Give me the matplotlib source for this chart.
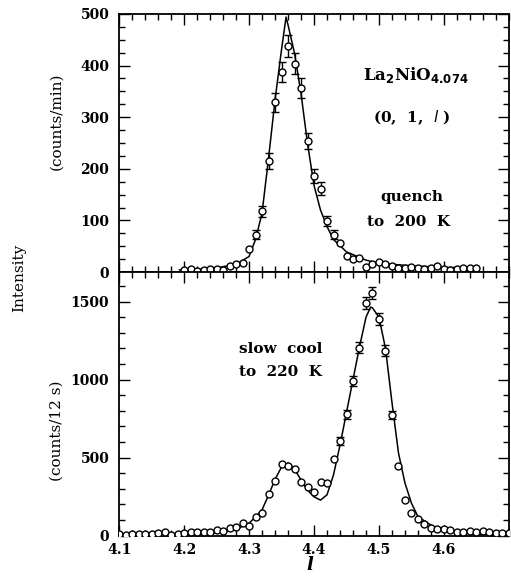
import matplotlib
matplotlib.use("Agg")
import matplotlib.pyplot as plt
import numpy as np
from matplotlib.ticker import MultipleLocator, FixedLocator

# ---- top panel: quench to 200 K (counts/min) ----
l_top = [4.20, 4.21, 4.22, 4.23, 4.24, 4.25, 4.26, 4.27, 4.28, 4.29,
         4.30, 4.31, 4.32, 4.33, 4.34, 4.35, 4.36, 4.37, 4.38, 4.39,
         4.40, 4.41, 4.42, 4.43, 4.44, 4.45, 4.46, 4.47, 4.48, 4.49,
         4.50, 4.51, 4.52, 4.53, 4.54, 4.55, 4.56, 4.57, 4.58, 4.59,
         4.60, 4.61, 4.62, 4.63, 4.64, 4.65]
i_top = [3, 5, 1, 3, 5, 6, 4, 11, 16, 17,
         45, 72, 118, 215, 329, 388, 438, 404, 357, 254,
         186, 161, 99, 72, 57, 31, 25, 27, 10, 15,
         19, 16, 12, 8, 8, 10, 8, 6, 7, 12,
         6, 4, 5, 8, 8, 7]
fit_l_top = [4.193, 4.22, 4.25, 4.28, 4.30, 4.31, 4.32, 4.33, 4.34, 4.35,
             4.357, 4.36, 4.37, 4.38, 4.39, 4.40, 4.41, 4.42, 4.43, 4.45,
             4.48, 4.50, 4.55, 4.60, 4.653]
fit_i_top = [4, 5, 8, 15, 30, 63, 114, 220, 333, 431,
             494, 479, 424, 346, 249, 168, 120, 88, 63, 39,
             23, 17, 12, 9, 8]

# ---- bottom panel: slow cool to 220 K (counts/12 s) ----
l_bot = [4.10, 4.11, 4.12, 4.13, 4.14, 4.15, 4.16, 4.17, 4.18, 4.19,
         4.20, 4.21, 4.22, 4.23, 4.24, 4.25, 4.26, 4.27, 4.28, 4.29,
         4.30, 4.31, 4.32, 4.33, 4.34, 4.35, 4.36, 4.37, 4.38, 4.39,
         4.40, 4.41, 4.42, 4.43, 4.44, 4.45, 4.46, 4.47, 4.48, 4.49,
         4.50, 4.51, 4.52, 4.53, 4.54, 4.55, 4.56, 4.57, 4.58, 4.59,
         4.60, 4.61, 4.62, 4.63, 4.64, 4.65, 4.66, 4.67, 4.68, 4.69,
         4.70]
i_bot = [11, 4, 11, 11, 11, 11, 15, 26, 4, 11,
         15, 21, 26, 24, 26, 37, 32, 47, 54, 80,
         62, 122, 144, 267, 352, 459, 448, 427, 341, 309,
         279, 343, 337, 494, 605, 777, 991, 1205, 1489, 1556,
         1388, 1185, 773, 448, 230, 144, 105, 75, 47, 41,
         41, 37, 26, 24, 32, 21, 30, 21, 19, 15,
         19]
fit_l_bot = [4.10, 4.20, 4.25, 4.28, 4.30, 4.31, 4.32, 4.33, 4.34, 4.35,
             4.36, 4.37, 4.38, 4.39, 4.40, 4.41, 4.42, 4.43, 4.44, 4.45,
             4.46, 4.47, 4.48, 4.487, 4.49, 4.50, 4.51, 4.52, 4.53, 4.54,
             4.55, 4.56, 4.58, 4.59, 4.62, 4.65, 4.70]
fit_i_bot = [3, 8, 18, 40, 80, 120, 165, 260, 360, 440,
             466, 427, 357, 292, 249, 228, 262, 390, 580, 790,
             1000, 1210, 1400, 1465, 1460, 1400, 1200, 853, 530, 337,
             208, 122, 68, 41, 20, 10, 5]

x_ticks = [4.1, 4.2, 4.3, 4.4, 4.5, 4.6]
x_tick_labels = ["4.1", "4.2", "4.3", "4.4", "4.5", "4.6"]

plt.rcParams['font.family'] = ['DejaVu Serif']
tick_font = {'family': 'DejaVu Serif', 'weight': 'bold', 'size': 10}

fig = plt.figure(figsize=(5.11, 5.78), dpi=100)
ax1 = fig.add_axes([0.233, 0.5294, 0.763, 0.4464])
ax2 = fig.add_axes([0.233, 0.0732, 0.763, 0.4562])


def style_axis(ax):
    for sp in ax.spines.values():
        sp.set_linewidth(1.3)
    ax.tick_params(which='both', direction='in', top=True, right=True, width=1.0)
    ax.tick_params(which='major', length=8, pad=7)
    ax.tick_params(which='minor', length=4)
    ax.set_xlim(4.1, 4.7)
    ax.xaxis.set_major_locator(FixedLocator(x_ticks))
    ax.xaxis.set_minor_locator(MultipleLocator(0.02))


def draw(ax, l, i, fl, fi, err_from, err_to):
    ax.plot(fl, fi, color='black', lw=1.1, zorder=2)
    l = np.array(l)
    i = np.array(i, dtype=float)
    err = np.sqrt(i)
    sel = (l >= err_from - 1e-9) & (l <= err_to + 1e-9)
    ax.errorbar(l[sel], i[sel], yerr=err[sel], fmt='none', ecolor='black',
                elinewidth=1.0, capsize=3, capthick=1.0, zorder=3)
    ax.plot(l, i, 'o', ms=5.0, mfc='white', mec='black', mew=1.0, zorder=4)


draw(ax1, l_top, i_top, fit_l_top, fit_i_top, 4.31, 4.43)
style_axis(ax1)
ax1.set_ylim(0, 500)
ax1.yaxis.set_major_locator(MultipleLocator(100))
ax1.yaxis.set_minor_locator(MultipleLocator(25))
ax1.set_xticklabels([])
for t in ax1.get_yticklabels():
    t.set_fontproperties(tick_font)

draw(ax2, l_bot, i_bot, fit_l_bot, fit_i_bot, 4.44, 4.52)
style_axis(ax2)
ax2.set_ylim(0, 1690)
ax2.yaxis.set_major_locator(FixedLocator([0, 500, 1000, 1500]))
ax2.yaxis.set_minor_locator(MultipleLocator(100))
ax2.set_xticks(x_ticks)
ax2.set_xticklabels(x_tick_labels)
ax2.tick_params(axis='x', pad=5)
for t in ax2.get_yticklabels() + ax2.get_xticklabels():
    t.set_fontproperties(tick_font)

# annotations
ax1.text(4.557, 382, r'La$_{\mathbf{2}}$NiO$_{\mathbf{4.074}}$', fontsize=12, fontweight='bold',
         ha='center', va='center')
ax1.text(4.55, 300, r'(0,  1,  $\mathit{l}$ )', fontsize=11, fontweight='bold',
         ha='center', va='center')
ax1.text(4.55, 145, 'quench', fontsize=11, fontweight='bold', ha='center', va='center')
ax1.text(4.545, 97, 'to  200  K', fontsize=11, fontweight='bold', ha='center', va='center')
ax2.text(4.348, 1196, 'slow  cool', fontsize=11, fontweight='bold', ha='center', va='center')
ax2.text(4.348, 1048, 'to  220  K', fontsize=11, fontweight='bold', ha='center', va='center')

fig.text(0.038, 0.52, 'Intensity', rotation=90, fontsize=11, ha='center', va='center')
fig.text(0.110, 0.79, '(counts/min)', rotation=90, fontsize=11, ha='center', va='center')
fig.text(0.110, 0.255, '(counts/12 s)', rotation=90, fontsize=11, ha='center', va='center')
fig.text(0.607, 0.022, 'l', fontsize=13, fontstyle='italic', fontweight='bold',
         ha='center', va='center')

fig.savefig('out.png', dpi=100)
